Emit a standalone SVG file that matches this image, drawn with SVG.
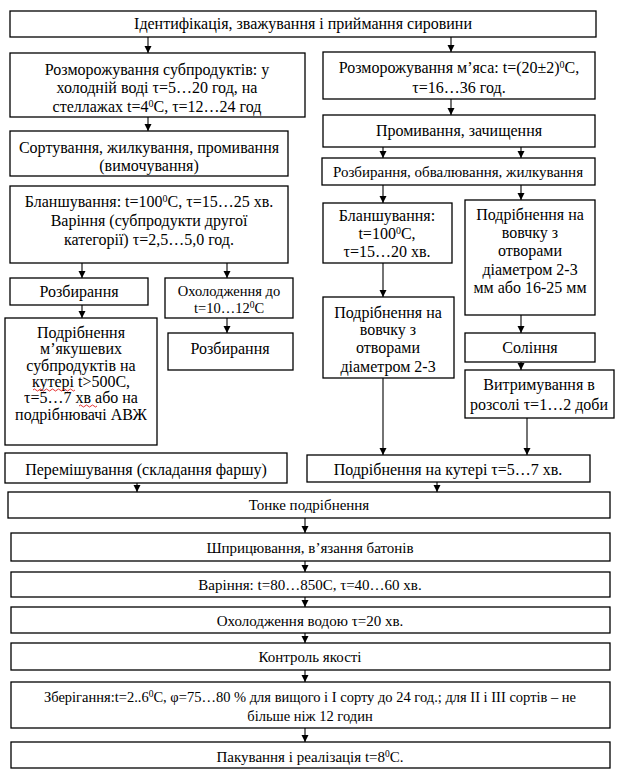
<svg xmlns="http://www.w3.org/2000/svg" width="618" height="774" viewBox="0 0 618 774">
<style>
rect{fill:#fff;stroke:#000;stroke-width:1.3}
text{font-family:'Liberation Serif','DejaVu Serif','Times New Roman',serif;font-size:16px;fill:#000;text-anchor:middle}
.s{font-size:15px}
.xs{font-size:14.5px}
.c line{stroke:#000;stroke-width:1.1;marker-end:url(#a)}
.sq{fill:none;stroke:#d00;stroke-width:0.8}
</style>
<defs>
<marker id="a" markerUnits="userSpaceOnUse" markerWidth="8" markerHeight="8" refX="7" refY="3.5" orient="auto">
<path d="M0,0 L7,3.5 L0,7 z" fill="#000"/>
</marker>
</defs>
<rect width="618" height="774" style="fill:#fff;stroke:none"/>
<g class="c" id="connectors">
<line x1="148" y1="37" x2="148" y2="53"/>
<line x1="451" y1="37" x2="451" y2="52"/>
<line x1="148" y1="117" x2="148" y2="131"/>
<line x1="451" y1="99" x2="451" y2="115"/>
<line x1="383" y1="147" x2="383" y2="158"/>
<line x1="521" y1="147" x2="521" y2="158"/>
<line x1="383" y1="185" x2="383" y2="203"/>
<line x1="521" y1="185" x2="521" y2="200"/>
<line x1="82" y1="263" x2="82" y2="278"/>
<line x1="227" y1="263" x2="227" y2="278"/>
<line x1="82" y1="305" x2="82" y2="318"/>
<line x1="227" y1="318" x2="227" y2="333"/>
<line x1="383" y1="263" x2="383" y2="297"/>
<line x1="521" y1="315" x2="521" y2="333"/>
<line x1="521" y1="362" x2="521" y2="370"/>
<line x1="383" y1="378" x2="383" y2="455"/>
<line x1="527" y1="418" x2="527" y2="455"/>
<line x1="137" y1="483" x2="137" y2="492"/>
<line x1="437" y1="482" x2="437" y2="492"/>
<line x1="305" y1="518" x2="305" y2="533"/>
<line x1="305" y1="561" x2="305" y2="572"/>
<line x1="305" y1="597" x2="305" y2="607"/>
<line x1="305" y1="633" x2="305" y2="643"/>
<line x1="305" y1="670" x2="305" y2="682"/>
<line x1="305" y1="728" x2="305" y2="742"/>
</g>
<g id="n-top"><rect x="10" y="11" width="586" height="26"/><text x="303" y="29">Ідентифікація, зважування і приймання сировини</text></g>
<g id="n-l1"><rect x="10" y="53" width="295" height="64"/>
<text x="157" y="75">Розморожування субпродуктів: у</text>
<text x="157" y="93">холодній воді τ=5…20 год, на</text>
<text x="157" y="112">стеллажах t=4<tspan font-size="10" dy="-5">0</tspan><tspan dy="5">C, τ=12…24 год</tspan></text></g>
<g id="n-r1"><rect x="323" y="52" width="272" height="47"/>
<text x="459" y="73">Розморожування м’яса: t=(20±2)<tspan font-size="10" dy="-5">0</tspan><tspan dy="5">C,</tspan></text>
<text x="459" y="93">τ=16…36 год.</text></g>
<g id="n-l2"><rect x="10" y="131" width="278" height="45"/>
<text x="149" y="153">Сортування, жилкування, промивання</text>
<text x="149" y="171">(вимочування)</text></g>
<g id="n-r2"><rect x="323" y="115" width="272" height="32"/><text x="459" y="136">Промивання, зачищення</text></g>
<g id="n-r3"><rect x="322" y="158" width="273" height="27"/><text class="s" x="458" y="177">Розбирання, обвалювання, жилкування</text></g>
<g id="n-l3"><rect x="10" y="186" width="278" height="77"/>
<text x="149" y="207">Бланшування: t=100<tspan font-size="10" dy="-5">0</tspan><tspan dy="5">C, τ=15…25 хв.</tspan></text>
<text x="149" y="226">Варіння (субпродукти другої</text>
<text x="149" y="245">категорії) τ=2,5…5,0 год.</text></g>
<g id="n-r4"><rect x="323" y="203" width="129" height="60"/>
<text x="387" y="221">Бланшування:</text>
<text x="387" y="239">t=100<tspan font-size="10" dy="-5">0</tspan><tspan dy="5">C,</tspan></text>
<text x="387" y="257">τ=15…20 хв.</text></g>
<g id="n-r5"><rect x="465" y="200" width="130" height="115"/>
<text x="530" y="220">Подрібнення на</text>
<text x="530" y="238">вовчку з</text>
<text x="530" y="256">отворами</text>
<text x="530" y="275">діаметром 2-3</text>
<text x="530" y="293">мм або 16-25 мм</text></g>
<g id="n-l4"><rect x="10" y="278" width="138" height="27"/><text x="79" y="297">Розбирання</text></g>
<g id="n-l5"><rect x="165" y="278" width="128" height="40"/>
<text class="xs" x="229" y="296">Охолодження до</text>
<text class="xs" x="229" y="313">t=10…12<tspan font-size="9.5" dy="-5">0</tspan><tspan dy="5">C</tspan></text></g>
<g id="n-l6"><rect x="5" y="318" width="152" height="127"/>
<text x="81" y="338">Подрібнення</text>
<text x="81" y="354">м’якушевих</text>
<text x="81" y="371">субпродуктів на</text>
<text x="81" y="387">кутері t&gt;500C,</text>
<text x="81" y="403">τ=5…7 хв або на</text>
<text x="81" y="420">подрібнювачі АВЖ</text>
<path class="sq" d="M33,390 q1.5,-2 3,0 t3,0 t3,0 t3,0 t3,0 t3,0 t3,0 t3,0 t3,0 t3,0 t3,0 t3,0 t3,0 t3,0"/>
<path class="sq" d="M79,406 q1.5,-2 3,0 t3,0 t3,0 t3,0 t3,0 t3,0"/></g>
<g id="n-l7"><rect x="168" y="333" width="125" height="37"/><text x="230" y="354">Розбирання</text></g>
<g id="n-r6"><rect x="323" y="297" width="131" height="81"/>
<text x="388" y="318">Подрібнення на</text>
<text x="388" y="335">вовчку з</text>
<text x="388" y="353">отворами</text>
<text x="388" y="372">діаметром 2-3</text></g>
<g id="n-r7"><rect x="465" y="333" width="130" height="29"/><text x="530" y="353">Соління</text></g>
<g id="n-r8"><rect x="465" y="370" width="149" height="48"/>
<text x="539" y="390">Витримування в</text>
<text x="539" y="410">розсолі τ=1…2 доби</text></g>
<g id="n-l8"><rect x="5" y="453" width="282" height="30"/><text x="146" y="475">Перемішування (складання фаршу)</text></g>
<g id="n-r9"><rect x="307" y="455" width="283" height="27"/><text x="448" y="475">Подрібнення на кутері τ=5…7 хв.</text></g>
<g id="n-b1"><rect x="8" y="492" width="602" height="26"/><text class="s" x="309" y="510">Тонке подрібнення</text></g>
<g id="n-b2"><rect x="11" y="533" width="599" height="28"/><text class="s" x="310" y="553">Шприцювання, в’язання батонів</text></g>
<g id="n-b3"><rect x="11" y="572" width="599" height="25"/><text class="s" x="310" y="590">Варіння: t=80…850C, τ=40…60 хв.</text></g>
<g id="n-b4"><rect x="11" y="607" width="599" height="26"/><text class="s" x="310" y="626">Охолодження водою τ=20 хв.</text></g>
<g id="n-b5"><rect x="11" y="643" width="599" height="27"/><text class="s" x="310" y="662">Контроль якості</text></g>
<g id="n-b6"><rect x="11" y="682" width="599" height="46"/>
<text class="xs" x="310" y="702">Зберігання:t=2..6<tspan font-size="9.5" dy="-5">0</tspan><tspan dy="5">C, φ=75…80 % для вищого і I сорту до 24 год.; для II і III сортів – не</tspan></text>
<text class="xs" x="310" y="721">більше ніж 12 годин</text></g>
<g id="n-b7"><rect x="11" y="742" width="599" height="26"/><text class="s" x="310" y="762">Пакування і реалізація t=8<tspan font-size="9.5" dy="-5">0</tspan><tspan dy="5">C.</tspan></text></g>
</svg>
